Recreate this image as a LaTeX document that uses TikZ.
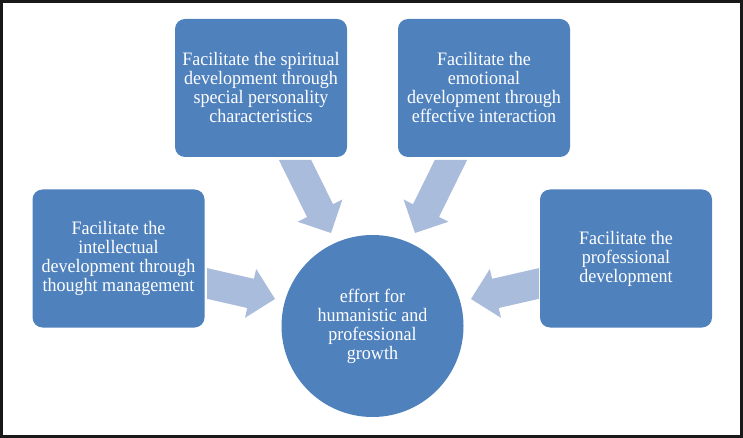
\documentclass[tikz,border=0pt]{standalone}
\usepackage{fontspec}
\setmainfont{Liberation Serif}[FakeStretch=0.95]
\definecolor{boxblue}{HTML}{4F81BD}
\definecolor{arrowblue}{HTML}{AABCDB}
\tikzset{
  card/.style={fill=boxblue, rounded corners=10pt, minimum width=172pt, minimum height=138pt,
    text=white, align=center, inner sep=0pt, font=\fontsize{19}{19}\selectfont},
  hub/.style={fill=boxblue, circle, minimum size=182pt, text=white, align=center,
    inner sep=0pt, font=\fontsize{19}{19}\selectfont},
  blockarrow/.style={fill=arrowblue, draw=none}
}
\begin{document}
\begin{tikzpicture}[x=1pt,y=-1pt]
\useasboundingbox (0,0) rectangle (743,438);
\fill[white] (0,0) rectangle (743,438);
\draw[line width=3pt, black!90] (1.5,1.5) rectangle (741.5,436.5);

% arrows
\fill[blockarrow] (278.9,160) -- (311.2,160) -- (333,204.2) -- (342.4,199.5) -- (331,233) -- (297.6,221.7) -- (307,217) -- cycle;
\fill[blockarrow] (467.1,160) -- (434.8,160) -- (413,204.2) -- (403.6,199.5) -- (415,233) -- (448.4,221.7) -- (439,217) -- cycle;
\fill[blockarrow] (207,268.1) -- (253.9,278.8) -- (256.2,269) -- (275,299) -- (245,317.8) -- (247.3,308) -- (207,298.8) -- cycle;
\fill[blockarrow] (539,268.1) -- (492.1,278.8) -- (489.8,269) -- (471,299) -- (501,317.8) -- (498.7,308) -- (539,298.8) -- cycle;

\node[card] (spirit) at (261,88) {Facilitate the spiritual\\development through\\special personality\\characteristics};
\node[card] (emot) at (484,88) {Facilitate the\\emotional\\development through\\effective interaction};
\node[card] (intel) at (118.5,258.5) {Facilitate the\\intellectual\\development through\\thought management};
\node[card] (prof) at (626,258.5) {Facilitate the\\professional\\development};
\node[hub] (growth) at (372.5,326) {effort for\\humanistic and\\professional\\growth};
\end{tikzpicture}
\end{document}
